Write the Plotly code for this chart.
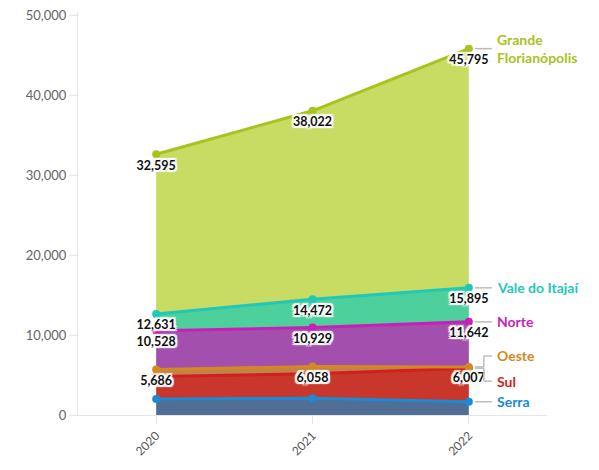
import numpy as np
import plotly.graph_objects as go

years = [2020, 2021, 2022]
regions = ["Serra", "Sul", "Oeste", "Norte", "Vale do Itajaí", "Grande Florianópolis"]
label_names = ["Serra", "Sul", "Oeste", "Norte", "Vale do Itajaí", "Grande<br>Florianópolis"]

serra = [2000, 2080, 1660]
sul = [2800, 3070, 4190]
oeste = [886, 908, 157]
norte = [4842, 4871, 5635]
vale = [2103, 3543, 4253]
grande_fpolis = [19964, 23550, 29900]

series = [serra, sul, oeste, norte, vale, grande_fpolis]
show_labels = [False, False, True, True, True, True]

line_colors = ["#1a8ad4", "#d11f1f", "#d4891f", "#c81fb8", "#1fc8b8", "#a9c21e"]
fill_colors = ["#506e96", "#c9372c", "#c2824a", "#a24fad", "#4dd09c", "#c8db63"]

cum = np.cumsum(np.array(series), axis=0)

halo = ("white 2px 0px 1px, white -2px 0px 1px, white 0px 2px 1px, white 0px -2px 1px, "
        "white 2px 2px 1px, white -2px -2px 1px, white 2px -2px 1px, white -2px 2px 1px")

fig = go.Figure()
for i, name in enumerate(regions):
    texts = [f"{v:,.0f}" for v in cum[i]] if show_labels[i] else None
    fig.add_trace(go.Scatter(
        x=years, y=series[i], name=name,
        stackgroup="one", mode="lines+markers+text" if show_labels[i] else "lines+markers",
        line=dict(color=line_colors[i], width=3),
        marker=dict(color=line_colors[i], size=8),
        fillcolor=fill_colors[i],
        text=texts, textposition="bottom center",
        textfont=dict(family="Lato", size=12.5, color="#111", weight="bold", shadow=halo),
        hoverinfo="skip",
    ))

# Right-side labels with connectors
x_end = years[-1]
px_per_year = 156.4
units_per_px = 50000 / 400.0

def dx(px):
    return x_end + px / px_per_year

shapes = []
annotations = []
last = cum[:, -1]
for i, name in enumerate(regions):
    y = last[i]
    if name in ("Oeste", "Sul"):
        off = 11 if name == "Oeste" else -13
        yl = y + off * units_per_px
        shapes.append(dict(type="line", xref="x", yref="y", x0=dx(6), x1=dx(15), y0=y, y1=y,
                           line=dict(color="#bbbbbb", width=1.5)))
        shapes.append(dict(type="line", xref="x", yref="y", x0=dx(15), x1=dx(15), y0=y, y1=yl,
                           line=dict(color="#bbbbbb", width=1.5)))
        shapes.append(dict(type="line", xref="x", yref="y", x0=dx(15), x1=dx(23), y0=yl, y1=yl,
                           line=dict(color="#bbbbbb", width=1.5)))
    else:
        yl = y
        shapes.append(dict(type="line", xref="x", yref="y", x0=dx(6), x1=dx(23), y0=y, y1=y,
                           line=dict(color="#bbbbbb", width=1.5)))
    annotations.append(dict(
        x=dx(26), y=yl, xref="x", yref="y", text=label_names[i], showarrow=False,
        xanchor="left", yanchor="middle", align="left",
        font=dict(family="Lato", size=14, color=line_colors[i], weight="bold"),
    ))

fig.update_layout(
    width=599, height=470,
    margin=dict(l=70, r=60, t=4, b=63),
    paper_bgcolor="white", plot_bgcolor="white",
    showlegend=False,
    font=dict(family="Lato", color="#666"),
    shapes=shapes, annotations=annotations,
    xaxis=dict(
        range=[2019.5, 2022.5], tickvals=years, ticktext=[str(y) for y in years],
        tickangle=-45, showgrid=False, zeroline=False, automargin=False,
        showline=True, linecolor="#e6e6e6", linewidth=1,
        ticks="outside", ticklen=8, tickcolor="#e6e6e6",
        tickfont=dict(size=12, color="#555"),
    ),
    yaxis=dict(
        range=[0, 50375], tickvals=[0, 10000, 20000, 30000, 40000, 50000],
        tickformat=",", showgrid=False, zeroline=False, automargin=False,
        showline=True, linecolor="#e6e6e6", linewidth=1,
        ticks="outside", ticklen=8, tickcolor="#e6e6e6",
        tickfont=dict(size=13, color="#666"),
        ticklabeloverflow="allow",
    ),
)

fig.write_html("out.html")
